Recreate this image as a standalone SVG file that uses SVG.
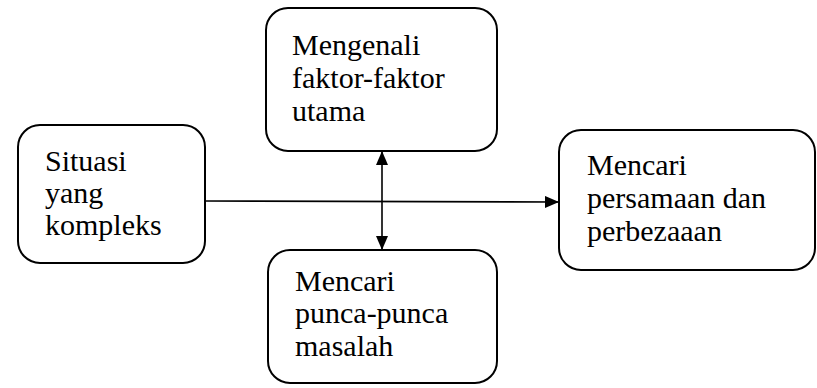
<svg xmlns="http://www.w3.org/2000/svg" width="817" height="388" viewBox="0 0 817 388">
<style>
.box{fill:#fff;stroke:#000;stroke-width:2}
.t{font-family:"Liberation Serif","Times New Roman",serif;font-size:30px;fill:#000}
.c{stroke:#000;stroke-width:1.6;fill:none}
</style>
<defs>
<marker id="ah" viewBox="0 0 14 12" refX="14" refY="6" markerWidth="14" markerHeight="12" markerUnits="userSpaceOnUse" orient="auto-start-reverse">
<path d="M0,0 L14,6 L0,12 Z" fill="#000"/>
</marker>
</defs>
<rect width="817" height="388" fill="#fff"/>
<g id="connectors">
<line class="c" x1="205" y1="201" x2="559" y2="202" marker-end="url(#ah)"/>
<line class="c" x1="382" y1="151" x2="382" y2="250" marker-start="url(#ah)" marker-end="url(#ah)"/>
</g>
<g id="situasi">
<rect class="box" x="18" y="125" width="187" height="138" rx="22"/>
<text class="t" x="45" y="171">Situasi</text>
<text class="t" x="45" y="203">yang</text>
<text class="t" x="45" y="235">kompleks</text>
</g>
<g id="mengenali">
<rect class="box" x="266" y="8" width="231" height="143" rx="22"/>
<text class="t" x="292" y="55">Mengenali</text>
<text class="t" x="292" y="88">faktor-faktor</text>
<text class="t" x="292" y="121">utama</text>
</g>
<g id="punca">
<rect class="box" x="268" y="250" width="229" height="133" rx="22"/>
<text class="t" x="295" y="291">Mencari</text>
<text class="t" x="295" y="323">punca-punca</text>
<text class="t" x="295" y="356">masalah</text>
</g>
<g id="persamaan">
<rect class="box" x="559" y="130" width="256" height="140" rx="22"/>
<text class="t" x="587" y="175">Mencari</text>
<text class="t" x="587" y="208">persamaan dan</text>
<text class="t" x="587" y="241">perbezaaan</text>
</g>
</svg>
